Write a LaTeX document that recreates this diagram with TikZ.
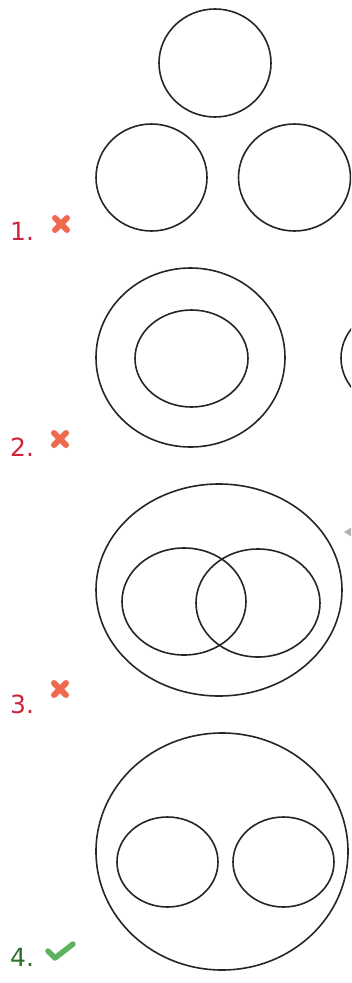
\documentclass[tikz,border=0pt]{standalone}
\usepackage{fontspec}
\setmainfont{DejaVu Sans}
\begin{document}
\begin{tikzpicture}[x=1pt,y=-1pt,
  ring/.style={draw=black!85,line width=1.6pt},
  numlabel/.style={anchor=base west,inner sep=0pt,font=\fontsize{25}{30}\selectfont},
  wrong/.style={draw=xred,line width=6pt,line cap=round},
  right/.style={draw=xgreen,line width=5.5pt,line cap=round,line join=round}]
\definecolor{xred}{HTML}{EF6A4C}
\definecolor{xgreen}{HTML}{5DB35D}
\definecolor{numred}{HTML}{D0243C}
\definecolor{numgreen}{HTML}{2F6F2F}
\useasboundingbox (0,0) rectangle (351,983);
\fill[white] (0,0) rectangle (351,983);
\clip (0,0) rectangle (351,983);
% set 1
\draw[ring] (215,63) ellipse [x radius=56,y radius=54];
\draw[ring] (151.5,177.5) ellipse [x radius=55.5,y radius=53.5];
\draw[ring] (294.5,177.5) ellipse [x radius=56,y radius=53.5];
% set 2
\draw[ring] (190.5,357.5) ellipse [x radius=94.5,y radius=89.5];
\draw[ring] (191.5,358.5) ellipse [x radius=56.5,y radius=48.5];
\draw[ring] (396,358) ellipse [x radius=55,y radius=50];
% set 3
\draw[ring] (219,590) ellipse [x radius=123,y radius=106];
\draw[ring] (184,601.5) ellipse [x radius=62,y radius=53.5];
\draw[ring] (258,603) ellipse [x radius=62,y radius=54];
\fill[black!30] (344,532) -- (352,527) -- (352,537) -- cycle;
% set 4
\draw[ring] (222,851.5) ellipse [x radius=126,y radius=118.5];
\draw[ring] (167.5,862) ellipse [x radius=50.5,y radius=45];
\draw[ring] (283.5,862) ellipse [x radius=50.5,y radius=45];
% labels
\node[numlabel,text=numred] (n1) at (10,240) {1.};
\node[numlabel,text=numred] (n2) at (10,456) {2.};
\node[numlabel,text=numred] (n3) at (10,713) {3.};
\node[numlabel,text=numgreen] (n4) at (10,966) {4.};
% marks
\draw[wrong] (55,218) -- (67,230) (67,218) -- (55,230);
\draw[wrong] (54,433) -- (66,445) (66,433) -- (54,445);
\draw[wrong] (54,683) -- (66,695) (66,683) -- (54,695);
\draw[right] (48,951) -- (55,958) -- (73,944);
\end{tikzpicture}
\end{document}
